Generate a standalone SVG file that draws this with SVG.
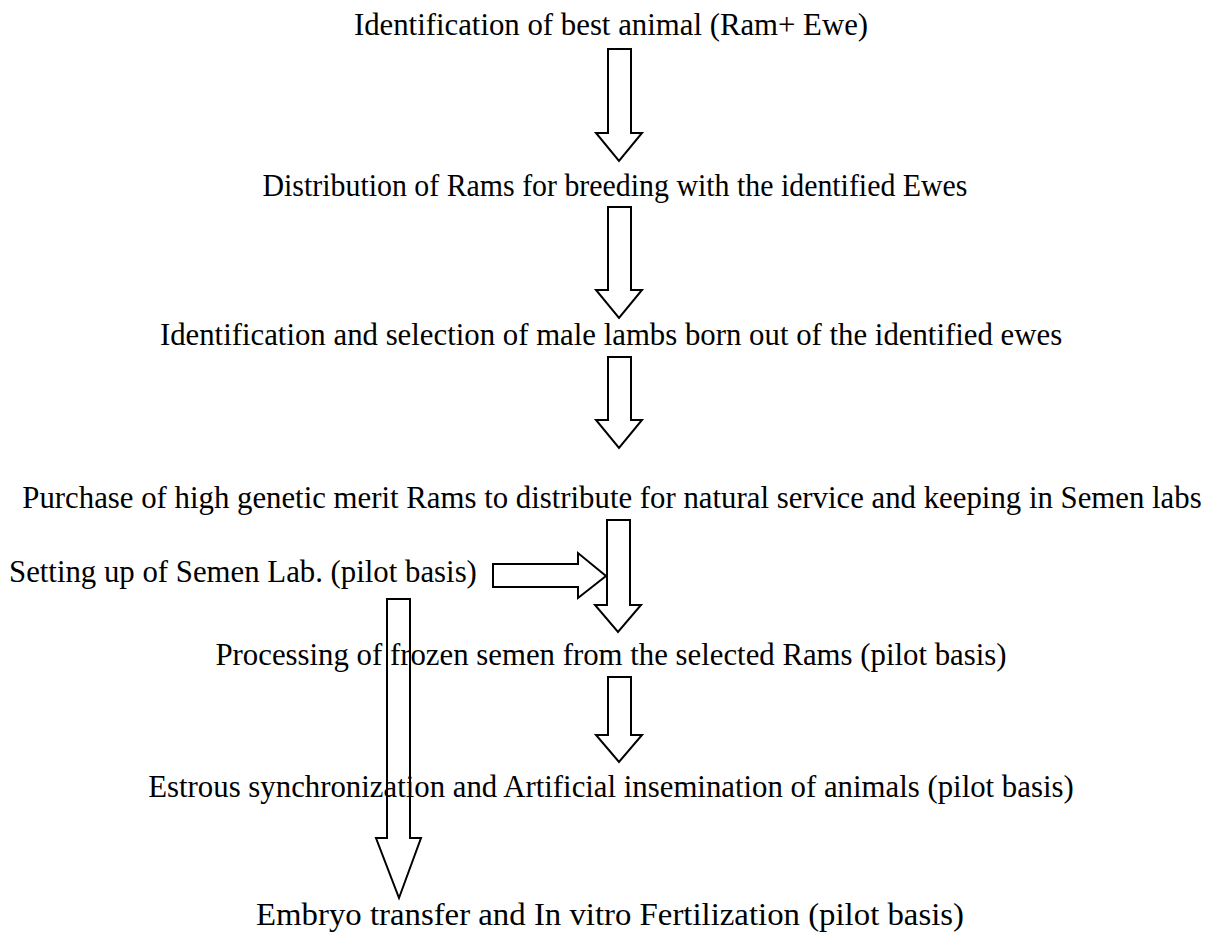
<svg xmlns="http://www.w3.org/2000/svg" width="1206" height="940" viewBox="0 0 1206 940">
<style>
.t{font-family:"Liberation Serif","Times New Roman",serif;font-size:30.8px;fill:#000}
.c{text-anchor:middle}
.a{fill:#fff;stroke:#000;stroke-width:2;stroke-linejoin:miter}
</style>
<rect width="1206" height="940" fill="#fff"/>
<g id="connectors">
<path class="a" d="M608,49 H631 V133 H642 L619,161 L596,133 H608 Z"/>
<path class="a" d="M608,207 H631 V290 H642 L619,318 L596,290 H608 Z"/>
<path class="a" d="M608,357 H631 V420 H642 L619,448 L596,420 H608 Z"/>
<path class="a" d="M607,520 H630 V605 H641 L618,632 L595,605 H607 Z"/>
<path class="a" d="M493,564 H578 V553 L606,576 L578,598 V587 H493 Z"/>
<path class="a" d="M387,599 H410 V838 H421 L399,898 L376,838 H387 Z"/>
<path class="a" d="M608,677 H631 V735 H642 L619,762 L596,735 H608 Z"/>
</g>
<g id="n1"><text class="t c" x="611" y="35">Identification of best animal (Ram+ Ewe)</text></g>
<g id="n2"><text class="t c" x="615" y="196" textLength="705" lengthAdjust="spacingAndGlyphs">Distribution of Rams for breeding with the identified Ewes</text></g>
<g id="n3"><text class="t c" x="611" y="345">Identification and selection of male lambs born out of the identified ewes</text></g>
<g id="n4"><text class="t c" x="612" y="508">Purchase of high genetic merit Rams to distribute for natural service and keeping in Semen labs</text></g>
<g id="n5"><text class="t" x="9" y="582">Setting up of Semen Lab. (pilot basis)</text></g>
<g id="n6"><text class="t c" x="611" y="665">Processing of frozen semen from the selected Rams (pilot basis)</text></g>
<g id="n7"><text class="t c" x="611" y="797">Estrous synchronization and Artificial insemination of animals (pilot basis)</text></g>
<g id="n8"><text class="t c" x="610" y="925" textLength="708" lengthAdjust="spacingAndGlyphs">Embryo transfer and In vitro Fertilization (pilot basis)</text></g>
</svg>
